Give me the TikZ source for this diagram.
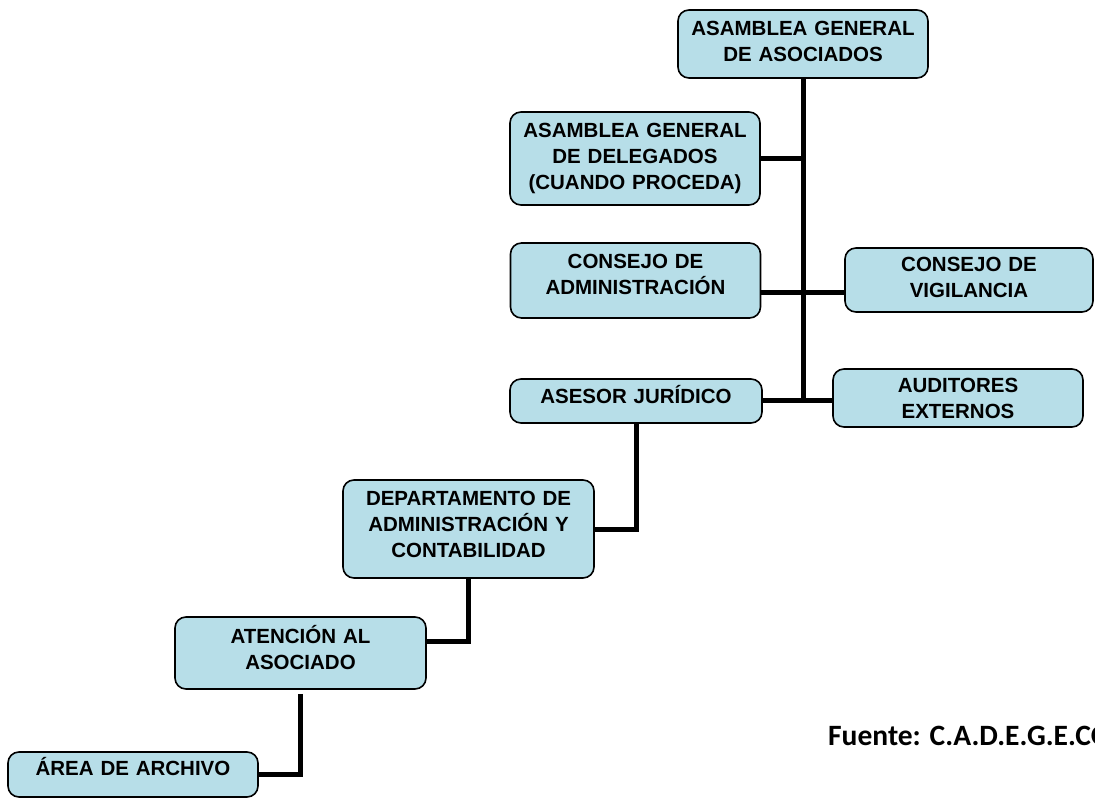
\documentclass[tikz,border=0pt]{standalone}
\usepackage{fontspec}
\setmainfont{Liberation Sans}
\newfontfamily\fuentefont{Carlito}
\usetikzlibrary{positioning}
\definecolor{cajazul}{RGB}{183,222,232}
\begin{document}
\begin{tikzpicture}[x=1pt, y=-1pt,
    caja/.style={draw=black, line width=1.6pt, fill=cajazul, rounded corners=11pt,
        align=center, inner sep=0pt, text width=240pt, minimum width=#1,
        font=\fontsize{20.5}{26}\selectfont\bfseries},
    caja/.default=250pt,
    subetexto/.style={text depth=#1},
    enlace/.style={line width=5pt, black}]
    \useasboundingbox (0,0) rectangle (1095,799);
    \node[caja, minimum height=68pt, subetexto=32pt] (asociados) at (803,44)
        {ASAMBLEA GENERAL\\DE ASOCIADOS};
    \node[caja, minimum height=93pt] (delegados) at (635,158.5)
        {ASAMBLEA GENERAL\\DE DELEGADOS\\(CUANDO PROCEDA)};
    \node[caja, minimum height=75pt, subetexto=38pt] (administracion) at (635.5,280.5)
        {CONSEJO DE\\ADMINISTRACIÓN};
    \node[caja=248pt, minimum height=64pt, subetexto=32pt] (vigilancia) at (969,280)
        {CONSEJO DE\\VIGILANCIA};
    \node[caja=252pt, minimum height=44pt, subetexto=14pt] (asesor) at (636,401)
        {ASESOR JURÍDICO};
    \node[caja, minimum height=58pt] (auditores) at (958,398)
        {AUDITORES\\EXTERNOS};
    \node[caja=251pt, minimum height=98pt, subetexto=62pt] (departamento) at (468.5,529)
        {DEPARTAMENTO DE\\ADMINISTRACIÓN Y\\CONTABILIDAD};
    \node[caja=251pt, minimum height=72pt, subetexto=38pt] (atencion) at (300.5,653)
        {ATENCIÓN AL\\ASOCIADO};
    \node[caja, minimum height=45pt, subetexto=16pt] (archivo) at (133,774.5)
        {ÁREA DE ARCHIVO};
    \coordinate (tronco) at (asociados.south |- asesor.east);
    \coordinate (admin-e) at ([yshift=-12pt]administracion.east);
    \coordinate (atencion-e) at ([yshift=12pt]atencion.east);
    \coordinate (atencion-s) at ([yshift=-4pt]atencion.south);
    \draw[enlace] (asociados.south) -- (tronco);
    \draw[enlace] (delegados.east) -- (delegados.east -| asociados.south);
    \draw[enlace] (admin-e) -- (admin-e -| vigilancia.west);
    \draw[enlace] (asesor.east) -- (asesor.east -| auditores.west);
    \draw[enlace] (asesor.south) -- (asesor.south |- departamento.east) -- (departamento.east);
    \draw[enlace] (departamento.south) -- (departamento.south |- atencion-e) -- (atencion-e);
    \draw[enlace] (atencion-s) -- (atencion-s |- archivo.east) -- (archivo.east);
    \node[anchor=base west, inner sep=0pt, font=\fuentefont\fontsize{29.5}{34}\selectfont\bfseries]
        (fuente) at (828,745) {Fuente: C.A.D.E.G.E.CO};
\end{tikzpicture}
\end{document}
